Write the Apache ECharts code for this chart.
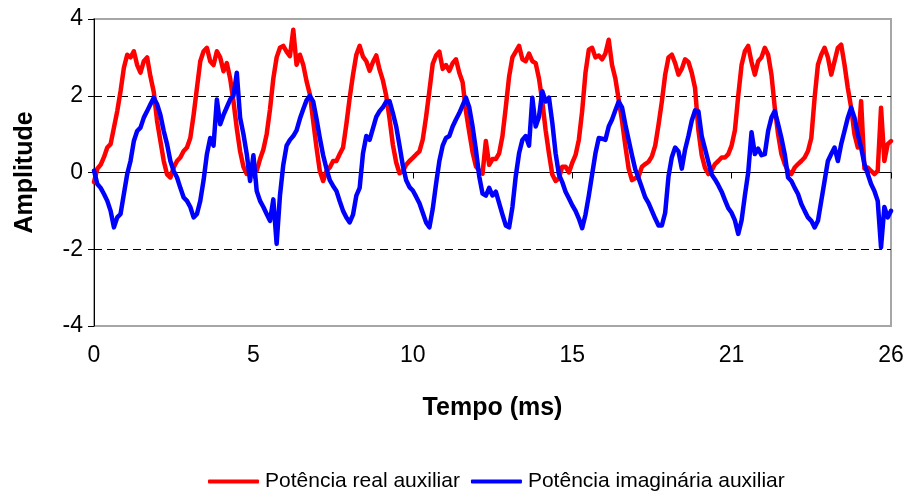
<!DOCTYPE html>
<html>
<head>
<meta charset="utf-8">
<script src="https://cdn.jsdelivr.net/npm/echarts@6/dist/echarts.min.js"></script>
<style>
  html, body { margin: 0; padding: 0; background: #ffffff; }
  #chart { width: 909px; height: 495px; }
</style>
</head>
<body>
<div id="chart"></div>
<script>
// Sampled signals, one value per sample (241 samples over ~25.7 ms)
const potenciaReal = [
  -0.25, 0.1, 0.2, 0.4, 0.65, 0.74, 1.17, 1.6, 2.12, 2.73,
  3.07, 3.0, 3.16, 2.8, 2.6, 2.9, 3.0, 2.5, 2.1, 1.34,
  0.82, 0.3, -0.05, -0.13, 0.13, 0.3, 0.39, 0.56, 0.65, 0.9,
  1.5, 2.2, 2.9, 3.16, 3.25, 2.9, 2.8, 3.16, 3.0, 2.64,
  2.85, 2.45, 1.85, 1.15, 0.55, 0.15, -0.04, 0.05, 0.0, 0.05,
  0.35, 0.6, 1.0, 1.65, 2.45, 3.0, 3.25, 3.3, 3.15, 3.03,
  3.72, 2.81, 3.07, 2.81, 2.38, 2.04, 1.34, 0.65, 0.04, -0.22,
  0.04, 0.13, 0.3, 0.3, 0.48, 0.65, 1.26, 1.95, 2.55, 3.07,
  3.3, 3.02, 2.9, 2.65, 2.88, 3.05, 2.68, 2.4, 2.0, 1.4,
  0.72, 0.26, -0.02, 0.03, 0.2, 0.3, 0.38, 0.47, 0.55, 0.86,
  1.45, 2.13, 2.83, 3.05, 3.15, 2.7, 2.8, 2.65, 2.85, 2.95,
  2.6, 2.35, 1.6, 1.05, 0.53, 0.16, 0.05, -0.03, 0.82, 0.2,
  0.35, 0.35, 0.5, 0.95, 1.7, 2.5, 3.0, 3.15, 3.3, 2.95,
  2.9, 3.1, 2.9, 2.85, 2.45, 1.85, 1.1, 0.5, -0.05, -0.22,
  -0.15, 0.15, 0.15, 0.0, 0.25, 0.45, 0.85, 1.6, 2.6, 3.2,
  3.25, 3.0, 3.05, 2.95, 3.1, 3.46, 2.8, 2.45, 1.9, 1.35,
  0.7, 0.1, -0.2, -0.15, -0.1, 0.15, 0.22, 0.28, 0.42, 0.7,
  1.25, 1.85, 2.55, 3.0, 3.07, 2.85, 2.55, 2.7, 2.95, 2.88,
  2.6, 2.2, 1.1, 0.45, 0.12, -0.04, 0.05, 0.22, 0.3, 0.39,
  0.39, 0.48, 0.7, 1.1, 2.0, 2.8, 3.16, 3.3, 2.88, 2.55,
  2.9, 3.0, 3.25, 3.07, 2.55, 1.69, 1.0, 0.48, 0.22, 0.04,
  -0.04, 0.13, 0.22, 0.3, 0.39, 0.56, 0.9, 1.95, 2.81, 3.07,
  3.25, 3.0, 2.55, 2.9, 3.25, 3.33, 2.81, 2.2, 1.69, 1.0,
  0.65, 1.86, 0.1, 0.13, 0.04, -0.04, 0.04, 1.69, 0.3, 0.74,
  0.82
];

const potenciaImaginaria = [
  0.05, -0.3, -0.4, -0.56, -0.74, -1.0, -1.43, -1.17, -1.08, -0.56,
  -0.04, 0.3, 0.82, 1.08, 1.17, 1.43, 1.6, 1.78, 1.95, 1.78,
  1.5, 1.08, 0.74, 0.3, 0.04, -0.13, -0.4, -0.65, -0.74, -0.9,
  -1.17, -1.08, -0.74, -0.2, 0.48, 0.9, 0.7, 1.9, 1.26, 1.5,
  1.7, 1.9, 2.0, 2.6, 1.43, 1.0, 0.48, -0.22, 0.45, -0.48,
  -0.74, -0.9, -1.08, -1.26, -0.7, -1.86, -0.6, 0.2, 0.7, 0.85,
  0.95, 1.1, 1.4, 1.65, 1.88, 2.0, 1.85, 1.4, 0.9, 0.45,
  0.1, -0.2, -0.35, -0.48, -0.75, -1.0, -1.17, -1.3, -1.1, -0.6,
  -0.4, 0.5, 0.95, 0.85, 1.15, 1.45, 1.6, 1.7, 1.85, 1.86,
  1.55, 1.2, 0.7, 0.18, -0.2, -0.38, -0.47, -0.63, -0.8, -1.05,
  -1.3, -1.43, -0.95, -0.3, 0.3, 0.7, 0.9, 0.95, 1.2, 1.38,
  1.55, 1.75, 1.95, 1.7, 1.2, 0.6, -0.1, -0.55, -0.6, -0.4,
  -0.6, -0.5, -0.8, -1.1, -1.38, -1.43, -0.9, -0.1, 0.5, 0.85,
  0.95, 0.7, 1.95, 1.2, 1.45, 2.12, 1.85, 1.95, 1.3, 0.5,
  -0.05, -0.25, -0.5, -0.67, -0.85, -1.0, -1.2, -1.45, -1.1, -0.6,
  -0.05, 0.5, 0.9, 0.88, 0.85, 1.2, 1.38, 1.62, 1.85, 1.7,
  1.25, 0.85, 0.45, 0.08, -0.15, -0.4, -0.65, -0.8, -1.0, -1.2,
  -1.38, -1.38, -1.05, -0.1, 0.4, 0.65, 0.55, 0.1, 0.6, 0.95,
  1.35, 1.62, 1.6, 0.95, 0.62, 0.28, -0.05, -0.18, -0.33, -0.5,
  -0.72, -0.93, -1.05, -1.25, -1.6, -1.25, -0.6, 0.0, 1.05, 0.48,
  0.62, 0.45, 0.48, 1.08, 1.43, 1.6, 1.26, 0.9, 0.48, -0.13,
  -0.22, -0.4, -0.56, -0.82, -1.0, -1.17, -1.26, -1.43, -1.26, -0.74,
  -0.22, 0.3, 0.48, 0.65, 0.3, 0.74, 1.08, 1.43, 1.69, 1.43,
  1.0, 0.65, 0.22, -0.04, -0.3, -0.48, -0.74, -1.95, -0.9, -1.17,
  -1.0
];

// Time axis: sample period in ms and the labels printed every LABEL_STEP samples
const SAMPLE_MS = 25.7 / 240;
const LABEL_STEP = 48;
const tickLabels = ['0', '5', '10', '15', '21', '26'];
const seriesNames = ['Potência real auxiliar', 'Potência imaginária auxiliar'];

const tempoMs = potenciaReal.map((_, i) => (i * SAMPLE_MS).toFixed(3));

const FONT = '"Liberation Sans", Arial, sans-serif';

const chart = echarts.init(document.getElementById('chart'), null, { renderer: 'canvas' });

chart.setOption({
  animation: false,
  backgroundColor: '#ffffff',
  textStyle: { fontFamily: FONT, color: '#000' },
  grid: {
    left: 94, right: 18, top: 19, bottom: 169,
    show: true,
    borderColor: '#a6a6a6',
    borderWidth: 2,
    backgroundColor: 'transparent'
  },
  legend: {
    top: 466,
    left: 203,
    itemWidth: 51,
    itemHeight: 4,
    itemGap: 11,
    icon: 'roundRect',
    data: seriesNames,
    textStyle: { fontFamily: FONT, fontSize: 21, color: '#000', padding: [0, 0, 0, 1] }
  },
  xAxis: {
    type: 'category',
    data: tempoMs,
    boundaryGap: false,
    name: 'Tempo (ms)',
    nameLocation: 'middle',
    nameGap: 70,
    nameTextStyle: { fontFamily: FONT, fontSize: 25, fontWeight: 'bold', color: '#000' },
    axisLine: { show: true, lineStyle: { color: '#000', width: 1 } },
    axisTick: { show: true, interval: LABEL_STEP - 1, length: 6, lineStyle: { color: '#000' } },
    axisLabel: {
      interval: LABEL_STEP - 1,
      margin: 18,
      fontFamily: FONT,
      fontSize: 23,
      color: '#000',
      formatter: (value, index) => {
        const k = index / LABEL_STEP;
        return Number.isInteger(k) && tickLabels[k] !== undefined ? tickLabels[k] : '';
      }
    },
    splitLine: { show: false }
  },
  yAxis: {
    type: 'value',
    min: -4,
    max: 4,
    interval: 2,
    name: 'Amplitude',
    nameLocation: 'middle',
    nameRotate: 90,
    nameGap: 56,
    nameTextStyle: { fontFamily: FONT, fontSize: 25, fontWeight: 'bold', color: '#000' },
    axisLine: { show: true, lineStyle: { color: '#000', width: 1 } },
    axisTick: { show: true, length: 6, lineStyle: { color: '#000' } },
    axisLabel: { margin: 11, fontFamily: FONT, fontSize: 23, color: '#000' },
    splitLine: {
      show: true,
      lineStyle: {
        // no dashed line on the -4 and 4 frame edges
        color: ['transparent', '#000', '#000', '#000', 'transparent'],
        type: [8, 5],
        width: 1
      }
    }
  },
  series: [
    {
      name: seriesNames[0],
      type: 'line',
      data: potenciaReal,
      symbol: 'none',
      smooth: false,
      color: '#ff0000',
      lineStyle: { color: '#ff0000', width: 4.5, join: 'round', cap: 'round' },
      z: 3
    },
    {
      name: seriesNames[1],
      type: 'line',
      data: potenciaImaginaria,
      symbol: 'none',
      smooth: false,
      color: '#0000ff',
      lineStyle: { color: '#0000ff', width: 4.5, join: 'round', cap: 'round' },
      z: 4
    }
  ]
});
</script>
</body>
</html>
